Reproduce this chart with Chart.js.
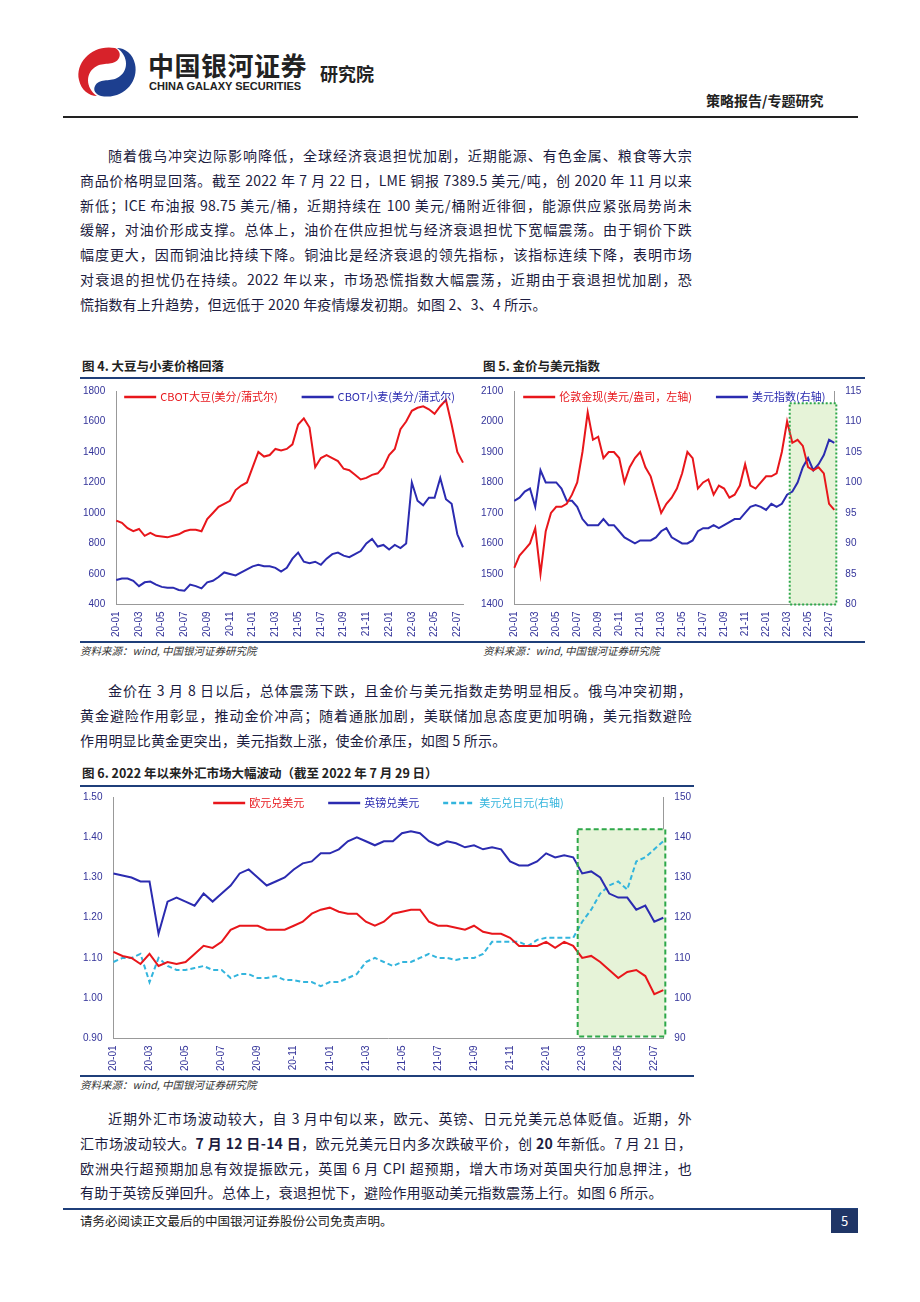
<!DOCTYPE html>
<html><head><meta charset="utf-8">
<script src="https://cdn.jsdelivr.net/npm/chart.js@4.4.0/dist/chart.umd.min.js"></script>
<style>
body{margin:0;width:920px;height:1302px;background:#fff;position:relative;font-family:"Noto Sans CJK SC","Noto Sans",sans-serif;color:#222;}
.abs{position:absolute;}
.p{position:absolute;left:80px;width:612px;font-size:14px;line-height:24.8px;letter-spacing:0.2px;color:#1c1c40;}
.p div{text-align:justify;text-align-last:justify;white-space:nowrap;}
.p div.last{text-align-last:left;}
.p div.first{padding-left:28px;}
.cap{position:absolute;font-size:12.5px;font-weight:bold;}
.src{position:absolute;font-size:10.5px;font-style:italic;color:#333;}
.hl{position:absolute;height:1.5px;background:#1f3f7a;}
.box{position:absolute;}
</style></head><body>
<svg class="abs" style="left:75px;top:44px" width="64" height="56" viewBox="0 0 64 56">
<path d="M40 4 C18 0 0 18 4 36 C6 46 14 52 22 52 C10 44 10 28 22 22 C30 18 40 22 44 14 C46 10 44 6 40 4Z" fill="#d7222a"/>
<path d="M26 52 C48 56 64 38 60 20 C58 10 50 4 42 4 C54 12 54 28 42 34 C34 38 24 34 20 42 C18 46 20 50 26 52Z" fill="#1d3f8f"/>
</svg>
<div class="abs" style="left:148px;top:46px;font-size:26px;font-weight:bold;letter-spacing:0.5px;color:#222">中国银河证券</div>
<div class="abs" style="left:149px;top:80px;font-size:11px;font-weight:bold;font-family:'Liberation Sans';color:#222">CHINA GALAXY SECURITIES</div>
<div class="abs" style="left:320px;top:60px;font-size:18px;font-weight:bold;color:#222">研究院</div>
<div class="abs" style="left:706px;top:90px;font-size:14px;font-weight:bold">策略报告/专题研究</div>
<div class="abs" style="left:63px;top:116px;width:795px;height:2px;background:#222"></div>

<div class="p" style="top:143px">
<div class="first">随着俄乌冲突边际影响降低，全球经济衰退担忧加剧，近期能源、有色金属、粮食等大宗</div>
<div>商品价格明显回落。截至 2022 年 7 月 22 日，LME 铜报 7389.5 美元/吨，创 2020 年 11 月以来</div>
<div>新低；ICE 布油报 98.75 美元/桶，近期持续在 100 美元/桶附近徘徊，能源供应紧张局势尚未</div>
<div>缓解，对油价形成支撑。总体上，油价在供应担忧与经济衰退担忧下宽幅震荡。由于铜价下跌</div>
<div>幅度更大，因而铜油比持续下降。铜油比是经济衰退的领先指标，该指标连续下降，表明市场</div>
<div>对衰退的担忧仍在持续。2022 年以来，市场恐慌指数大幅震荡，近期由于衰退担忧加剧，恐</div>
<div class="last">慌指数有上升趋势，但远低于 2020 年疫情爆发初期。如图 2、3、4 所示。</div>
</div>

<div class="cap" style="left:82px;top:356px">图 4. 大豆与小麦价格回落</div>
<div class="cap" style="left:483px;top:356px">图 5. 金价与美元指数</div>
<div class="hl" style="left:80px;top:377px;width:785px"></div>
<div class="box" style="left:80px;top:382px;width:398px;height:258px"><canvas id="c4"></canvas></div>
<div class="box" style="left:478px;top:382px;width:387px;height:258px"><canvas id="c5"></canvas></div>
<div class="hl" style="left:80px;top:641px;width:785px"></div>
<div class="src" style="left:80px;top:643px">资料来源：wind, 中国银河证券研究院</div>
<div class="src" style="left:483px;top:643px">资料来源：wind, 中国银河证券研究院</div>

<div class="p" style="top:678px">
<div class="first">金价在 3 月 8 日以后，总体震荡下跌，且金价与美元指数走势明显相反。俄乌冲突初期，</div>
<div>黄金避险作用彰显，推动金价冲高；随着通胀加剧，美联储加息态度更加明确，美元指数避险</div>
<div class="last">作用明显比黄金更突出，美元指数上涨，使金价承压，如图 5 所示。</div>
</div>

<div class="cap" style="left:82px;top:763px">图 6. 2022 年以来外汇市场大幅波动（截至 2022 年 7 月 29 日）</div>
<div class="hl" style="left:80px;top:785px;width:614px"></div>
<div class="box" style="left:80px;top:788px;width:614px;height:286px"><canvas id="c6"></canvas></div>
<div class="hl" style="left:80px;top:1075px;width:614px"></div>
<div class="src" style="left:80px;top:1077px">资料来源：wind, 中国银河证券研究院</div>

<div class="p" style="top:1106px">
<div class="first">近期外汇市场波动较大，自 3 月中旬以来，欧元、英镑、日元兑美元总体贬值。近期，外</div>
<div>汇市场波动较大。<b>7 月 12 日-14 日</b>，欧元兑美元日内多次跌破平价，创 <b>20</b> 年新低。7 月 21 日，</div>
<div>欧洲央行超预期加息有效提振欧元，英国 6 月 CPI 超预期，增大市场对英国央行加息押注，也</div>
<div class="last">有助于英镑反弹回升。总体上，衰退担忧下，避险作用驱动美元指数震荡上行。如图 6 所示。</div>
</div>

<div class="abs" style="left:63px;top:1208px;width:795px;height:1.5px;background:#1f3f7a"></div>
<div class="abs" style="left:80px;top:1211px;font-size:12.5px">请务必阅读正文最后的中国银河证券股份公司免责声明。</div>
<div class="abs" style="left:831px;top:1209px;width:27px;height:24px;background:#1f3566;color:#fff;font-size:13px;text-align:center;line-height:24px">5</div>

<script>
// two points per month, 20-01 .. 22-07
const labels = [];
for (let y = 20; y <= 22; y++) for (let m = 1; m <= 12; m++) {
  if (y === 22 && m > 7) break;
  const s = y + '-' + String(m).padStart(2, '0');
  labels.push(s, s + 'b');
}

const soybean = [950,935, 900,880, 895,850, 870,850, 845,840, 850,860, 880,890, 890,880, 960,1000, 1040,1060, 1080,1150, 1180,1200,
  1300,1400, 1370,1380, 1420,1410, 1420,1450, 1580,1620, 1560,1300, 1360,1380, 1360,1340, 1290,1280, 1250,1220, 1230,1250, 1260,1300,
  1380,1420, 1550,1600, 1670,1690, 1700,1680, 1650,1700, 1740,1580, 1400,1330];
const wheat = [560,570, 570,555, 520,545, 550,530, 515,510, 510,495, 490,530, 520,505, 545,555, 580,610, 600,590, 610,630,
  650,660, 650,650, 640,615, 640,700, 740,680, 670,680, 660,700, 730,740, 720,710, 730,750, 800,830, 780,790,
  760,790, 770,800, 1200,1080, 1050,1100, 1100,1230, 1090,1060, 860,775];
const gold = [1520,1560, 1580,1600, 1650,1500, 1640,1700, 1720,1720, 1730,1760, 1800,1900, 2030,1940, 1950,1880, 1900,1900, 1880,1800, 1850,1880,
  1900,1850, 1820,1760, 1700,1730, 1750,1780, 1830,1900, 1880,1780, 1800,1810, 1760,1790, 1780,1750, 1760,1790, 1860,1790, 1780,1800,
  1820,1820, 1830,1900, 2000,1930, 1940,1920, 1850,1840, 1850,1830, 1730,1710];
const dxy = [97,97.5, 98.5,99, 96,102, 100,100, 100,99, 97,97, 96,94, 93,93, 93,94, 93,93, 92,91, 90.5,90,
  90.5,90.5, 90.5,91, 92,92.5, 91,90.5, 90,90, 90.5,92, 92.5,92.5, 93,92.5, 93,93.5, 94,94, 95,96, 96.3,96,
  95.5,96.5, 96,96.5, 98,98.5, 100,102.5, 104,102, 103,104.5, 107,106.5];
const eurusd = [1.115,1.105, 1.10,1.085, 1.11,1.08, 1.09,1.085, 1.09,1.11, 1.13,1.125, 1.14,1.17, 1.18,1.18, 1.18,1.17, 1.17,1.17, 1.18,1.19, 1.21,1.22,
  1.225,1.215, 1.21,1.21, 1.19,1.18, 1.19,1.21, 1.215,1.22, 1.22,1.19, 1.18,1.18, 1.175,1.17, 1.18,1.165, 1.16,1.16, 1.15,1.13, 1.13,1.13,
  1.14,1.125, 1.14,1.13, 1.10,1.105, 1.09,1.07, 1.05,1.065, 1.07,1.055, 1.01,1.02];
const gbpusd = [1.31,1.305, 1.30,1.29, 1.29,1.16, 1.24,1.25, 1.24,1.23, 1.26,1.24, 1.26,1.28, 1.31,1.32, 1.30,1.28, 1.29,1.30, 1.32,1.335, 1.34,1.36,
  1.36,1.37, 1.39,1.40, 1.39,1.38, 1.39,1.39, 1.41,1.415, 1.41,1.39, 1.38,1.39, 1.385,1.375, 1.38,1.37, 1.375,1.37, 1.34,1.33, 1.33,1.34,
  1.36,1.35, 1.355,1.35, 1.31,1.315, 1.30,1.26, 1.25,1.25, 1.22,1.23, 1.19,1.20];
const usdjpy = [109,110, 110,111, 104,110, 108,107, 107,107.5, 108,107, 107,105, 106,106, 105,105, 105.5,104.5, 104.5,104, 104,103,
  104,104, 105,106, 109,110, 109,108, 109,109, 110,111, 110,110, 109.5,110, 110,111, 114,114, 114,114, 113,114.5,
  115,115, 115,115, 119,122, 126,128, 129,127, 134,135, 137,139];

const RED = '#e8161b', BLUE = '#2b2bb0', CYAN = '#33b5dd', TICK = '#34349a';
const font = { family: 'Liberation Sans', size: 10 };

const greenBox = {
  id: 'greenBox',
  beforeDatasetsDraw(chart, a, o) {
    if (o.from == null) return;
    const x = chart.scales.x, y = chart.scales[o.axis];
    const ctx = chart.ctx;
    const x0 = x.getPixelForValue(o.from), x1 = x.getPixelForValue(labels.length - 1) + 2;
    const y0 = y.getPixelForValue(o.top), y1 = y.getPixelForValue(o.bottom);
    ctx.save();
    ctx.fillStyle = '#e6f3d8';
    ctx.fillRect(x0, y0, x1 - x0, y1 - y0);
    ctx.restore();
    chart.$box = [x0, y0, x1, y1];
  },
  afterDatasetsDraw(chart, a, o) {
    if (!chart.$box) return;
    const [x0, y0, x1, y1] = chart.$box, ctx = chart.ctx;
    ctx.save();
    ctx.strokeStyle = '#2ea84a';
    ctx.lineWidth = 2;
    ctx.setLineDash(o.dash);
    ctx.strokeRect(x0, y0, x1 - x0, y1 - y0);
    ctx.restore();
  }
};

// legend drawn inside the plot area, along its top edge
const topLegend = {
  id: 'topLegend',
  afterDraw(chart) {
    const ctx = chart.ctx, area = chart.chartArea, gap = 24, seg = 32;
    ctx.save();
    ctx.font = '11px "Noto Sans CJK SC"';
    const items = chart.data.datasets.map(d => ({ d, w: seg + 4 + ctx.measureText(d.label).width }));
    const total = items.reduce((s, it) => s + it.w, 0) + gap * (items.length - 1);
    let x = area.left + (area.right - area.left - total) / 2;
    const y = area.top + 6;
    items.forEach(({ d, w }) => {
      ctx.strokeStyle = d.borderColor; ctx.lineWidth = 2.5;
      ctx.setLineDash(d.borderDash || []);
      ctx.beginPath(); ctx.moveTo(x, y); ctx.lineTo(x + seg, y); ctx.stroke();
      ctx.fillStyle = d.borderColor; ctx.textBaseline = 'middle';
      ctx.fillText(d.label, x + seg + 4, y);
      x += w + gap;
    });
    ctx.restore();
  }
};

function xAxis() {
  return {
    grid: { display: false, drawTicks: true, tickLength: 4 },
    border: { color: '#999' },
    ticks: {
      autoSkip: false, maxRotation: 90, minRotation: 90, color: TICK, font,
      callback: (v, i) => (i % 4 === 0 ? labels[i] : '')
    }
  };
}
function yAxis(min, max, step, pos, fmt) {
  return {
    position: pos, min, max, grid: { display: false }, border: { color: '#999' },
    ticks: { stepSize: step, color: TICK, font, callback: fmt || (v => v) }
  };
}
const line = (label, data, color, axis, dash) => ({
  label, data, borderColor: color, backgroundColor: color, borderWidth: 2, pointRadius: 0,
  tension: 0, yAxisID: axis, borderDash: dash || []
});
const base = { responsive: true, maintainAspectRatio: false, animation: false };
const noLegend = { legend: { display: false }, tooltip: { enabled: false } };

new Chart(document.getElementById('c4'), {
  type: 'line',
  data: { labels, datasets: [line('CBOT大豆(美分/蒲式尔)', soybean, RED, 'y'), line('CBOT小麦(美分/蒲式尔)', wheat, BLUE, 'y')] },
  options: { ...base, layout: { padding: { top: 8, right: 10 } }, plugins: noLegend,
    scales: { x: xAxis(), y: yAxis(400, 1800, 200, 'left') } },
  plugins: [topLegend]
});

new Chart(document.getElementById('c5'), {
  type: 'line',
  data: { labels, datasets: [line('伦敦金现(美元/盎司，左轴)', gold, RED, 'y'), line('美元指数(右轴)', dxy, BLUE, 'y1')] },
  options: { ...base, layout: { padding: { top: 8 } },
    plugins: { ...noLegend, greenBox: { from: 52.5, top: 113, bottom: 80, axis: 'y1', dash: [2, 2] } },
    scales: { x: xAxis(), y: yAxis(1400, 2100, 100, 'left'), y1: yAxis(80, 115, 5, 'right') } },
  plugins: [greenBox, topLegend]
});

new Chart(document.getElementById('c6'), {
  type: 'line',
  data: { labels, datasets: [line('欧元兑美元', eurusd, RED, 'y'), line('英镑兑美元', gbpusd, BLUE, 'y'), line('美元兑日元(右轴)', usdjpy, CYAN, 'y1', [5, 3])] },
  options: { ...base, layout: { padding: { top: 8 } },
    plugins: { ...noLegend, greenBox: { from: 51.5, top: 1.42, bottom: 0.905, axis: 'y', dash: [5, 3] } },
    scales: { x: xAxis(), y: yAxis(0.9, 1.5, 0.1, 'left', v => v.toFixed(2)), y1: yAxis(90, 150, 10, 'right') } },
  plugins: [greenBox, topLegend]
});
</script>
</body></html>
